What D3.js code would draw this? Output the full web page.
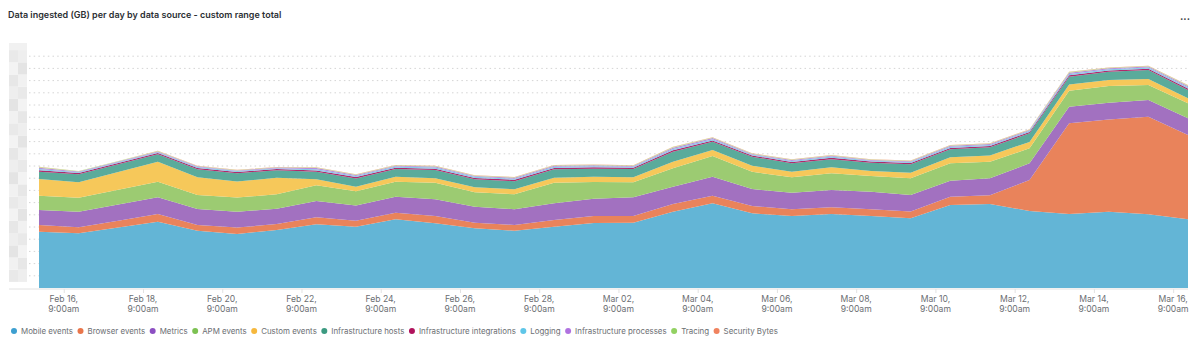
<!DOCTYPE html>
<html>
<head>
<meta charset="utf-8">
<script src="https://cdn.jsdelivr.net/npm/d3@7"></script>
<style>
  html, body { margin: 0; padding: 0; background: #fff; }
  body { width: 1200px; height: 345px; overflow: hidden; font-family: Inter, "Open Sans", sans-serif; }
  svg text { font-family: Inter, "Open Sans", sans-serif; }
</style>
</head>
<body>
<div id="chart"></div>
<script>
// Series (GB per day), bottom to top of the stack
const mobileEvents = [46.1,44.8,49.6,54.3,47.0,44.3,47.5,52.2,50.2,56.3,53.0,48.9,47.0,50.2,53.3,53.5,62.5,69.4,61.2,59.0,60.7,59.0,57.1,68.0,68.9,63.1,60.7,62.5,60.4,56.3];
const browserEvents = [5.5,4.9,5.6,6.3,4.7,5.2,4.9,5.7,4.9,5.4,6.0,4.6,4.7,5.5,5.7,5.5,6.3,6.2,6.0,5.5,5.5,5.5,5.7,6.8,7.1,25.4,74.3,75.7,80.0,69.1];
const metrics = [12.3,12.8,13.3,13.7,13.1,13.1,12.5,13.4,12.6,13.1,13.7,13.1,12.9,13.7,14.2,15.3,14.2,15.6,13.9,13.6,14.2,14.4,13.4,13.1,13.9,13.7,13.6,13.6,13.7,13.7];
const apmEvents = [11.7,11.5,12.1,12.8,11.5,11.5,12.0,12.9,11.7,12.3,13.6,11.8,12.3,16.9,13.7,12.3,15.1,17.0,14.2,12.6,13.7,12.9,13.7,14.3,13.6,12.3,13.1,13.7,12.3,12.3];
const customEvents = [13.7,12.6,14.5,16.4,14.5,13.1,13.4,4.9,3.5,4.1,3.6,4.1,4.1,4.1,4.3,4.1,5.4,4.9,4.9,4.6,4.9,4.1,4.6,4.9,5.2,5.2,5.2,4.9,4.9,4.1];
const infraHosts = [6.0,6.6,6.3,6.1,6.6,6.9,6.3,6.2,6.9,6.3,6.8,6.6,6.6,6.9,6.6,6.8,8.2,6.8,7.4,6.9,6.6,6.8,6.9,6.6,6.6,7.1,6.2,6.8,7.4,6.8];
const infraIntegrations = [1.2,1.0,1.0,1.0,1.0,1.0,1.0,1.1,1.1,1.1,1.1,1.1,1.1,1.1,1.1,1.0,1.2,1.1,1.0,1.1,1.1,1.0,1.0,1.1,1.1,1.1,1.2,1.1,1.1,1.2];
const logging = [1.1,0.7,0.7,0.7,0.7,0.7,0.6,1.0,0.9,0.9,1.0,0.9,0.9,1.0,0.9,0.8,1.1,1.0,0.7,0.9,1.0,0.7,0.8,1.0,0.9,0.9,1.1,1.0,1.0,1.1];
const infraProcesses = [1.0,0.6,0.6,0.6,0.6,0.6,0.5,0.9,0.8,0.8,0.8,0.8,0.8,0.8,0.8,0.7,1.0,0.9,0.6,0.8,0.8,0.6,0.7,0.8,0.8,0.8,1.0,0.9,0.8,1.0];
const tracing = [0.6,0.3,0.3,0.3,0.3,0.3,0.3,0.4,0.4,0.4,0.4,0.4,0.4,0.4,0.4,0.4,0.6,0.4,0.4,0.4,0.4,0.4,0.4,0.4,0.4,0.4,0.6,0.4,0.4,0.6];
const securityBytes = [0.2,0.2,0.2,0.2,0.2,0.2,0.2,0.2,0.2,0.2,0.2,0.2,0.2,0.2,0.2,0.2,0.2,0.2,0.2,0.2,0.2,0.2,0.2,0.2,0.2,0.2,0.2,0.2,0.2,0.2];

const seriesNames = ["Mobile events","Browser events","Metrics","APM events","Custom events","Infrastructure hosts","Infrastructure integrations","Logging","Infrastructure processes","Tracing","Security Bytes"];
const seriesValues = [mobileEvents,browserEvents,metrics,apmEvents,customEvents,infraHosts,infraIntegrations,logging,infraProcesses,tracing,securityBytes];

// one point per day, first at Feb 15 18:00
const firstDay = "2023-02-15T18:00";
// x tick labels every two days at 9:00am
const tickDates = ["2023-02-16T09:00","2023-02-18T09:00","2023-02-20T09:00","2023-02-22T09:00","2023-02-24T09:00","2023-02-26T09:00","2023-02-28T09:00","2023-03-02T09:00","2023-03-04T09:00","2023-03-06T09:00","2023-03-08T09:00","2023-03-10T09:00","2023-03-12T09:00","2023-03-14T09:00","2023-03-16T09:00"];
const yTicks = d3.range(0, 191, 10);

const areaColors = ["#63b5d6","#e9835b","#a271c0","#9ccb72","#f6c85a","#5aab9b","#b02a6c","#85cdea","#b88fdf","#bfe08f","#f1946c"];
const legendColors = ["#3d9fd0","#e9764b","#8c4fc2","#7cc152","#f6b83d","#3c9a81","#b0125c","#5fc6e8","#b072e0","#92d162","#f0835f"];

const W = 1200, H = 345;
const margin = { left: 39, right: 12, top: 56.2, bottom: 57 };

const parse = d3.timeParse("%Y-%m-%dT%H:%M");
const start = parse(firstDay);
const dates = mobileEvents.map((_, i) => d3.timeDay.offset(start, i));

const rows = dates.map((d, i) => {
  const r = { date: d };
  seriesNames.forEach((n, k) => r[n] = seriesValues[k][i]);
  return r;
});

const svg = d3.select("#chart").append("svg")
  .attr("width", W).attr("height", H);

const x = d3.scaleTime()
  .domain(d3.extent(dates))
  .range([margin.left, W - margin.right]);

const y = d3.scaleLinear()
  .domain([0, 190])
  .range([H - margin.bottom, margin.top]);

// title
svg.append("text")
  .attr("x", 8).attr("y", 18)
  .attr("font-size", 9).attr("font-weight", 600)
  .attr("fill", "#2b2f33")
  .text("Data ingested (GB) per day by data source - custom range total");

svg.append("text")
  .attr("x", 1185).attr("y", 20)
  .attr("text-anchor", "middle")
  .attr("font-size", 10).attr("font-weight", 700)
  .attr("fill", "#444")
  .text("...");

// redacted y labels (blurred blocks)
const shades = ["#e9e9e9","#f1f1f1","#e4e4e4","#eeeeee","#e7e7e7","#f3f3f3"];
const yl = svg.append("g");
yTicks.slice(1).forEach((t, i) => {
  const cy = y(t);
  yl.append("rect").attr("x", 9).attr("y", cy - 6.1).attr("width", 9).attr("height", 12.2)
    .attr("fill", shades[i % shades.length]);
  yl.append("rect").attr("x", 18).attr("y", cy - 6.1).attr("width", 9).attr("height", 12.2)
    .attr("fill", shades[(i + 3) % shades.length]);
});
yl.append("rect").attr("x", 9).attr("y", 43).attr("width", 18).attr("height", 7).attr("fill", "#f1f1f1");

// dotted gridlines
svg.append("g")
  .selectAll("line")
  .data(yTicks.slice(1))
  .join("line")
  .attr("x1", margin.left - 10).attr("x2", W - margin.right)
  .attr("y1", d => y(d)).attr("y2", d => y(d))
  .attr("stroke", "#d4d4d4")
  .attr("stroke-width", 1)
  .attr("stroke-dasharray", "1.5,3.2");

// stacked areas
const stack = d3.stack().keys(seriesNames);
const layers = stack(rows);

const area = d3.area()
  .x(d => x(d.data.date))
  .y0(d => y(d[0]))
  .y1(d => y(d[1]));

svg.append("g")
  .selectAll("path")
  .data(layers)
  .join("path")
  .attr("fill", (d, i) => areaColors[i])
  .attr("d", area);

// x axis
const xAxis = d3.axisBottom(x)
  .tickValues(tickDates.map(parse))
  .tickSize(4)
  .tickFormat("");

const gx = svg.append("g")
  .attr("transform", `translate(0,${y(0) + 1})`)
  .call(xAxis);
gx.select(".domain").attr("stroke", "#e2e2e2").attr("d", `M${margin.left - 30},0H${W - margin.right}`);
gx.selectAll(".tick line").attr("stroke", "#e2e2e2");

const fmtDay = d3.timeFormat("%b %d,");
const fmtTime = d => d3.timeFormat("%-I:%M%p")(d).toLowerCase();

const tl = svg.append("g")
  .selectAll("text")
  .data(tickDates.map(parse))
  .join("text")
  .attr("x", d => x(d))
  .attr("text-anchor", "middle")
  .attr("font-size", 8.6)
  .attr("fill", "#6b6e72");
tl.append("tspan").attr("x", d => x(d)).attr("y", 302).text(fmtDay);
tl.append("tspan").attr("x", d => x(d)).attr("y", 312).text(fmtTime);

// legend
const lg = svg.append("g").attr("transform", "translate(0,331)");
let lx = 14;
seriesNames.forEach((n, i) => {
  lg.append("circle").attr("cx", lx).attr("cy", 0).attr("r", 3).attr("fill", legendColors[i]);
  const t = lg.append("text")
    .attr("x", lx + 7).attr("y", 3)
    .attr("font-size", 7.9)
    .attr("fill", "#6b6e72")
    .text(n);
  lx += 7 + t.node().getComputedTextLength() + 7.5;
});
</script>
</body>
</html>
